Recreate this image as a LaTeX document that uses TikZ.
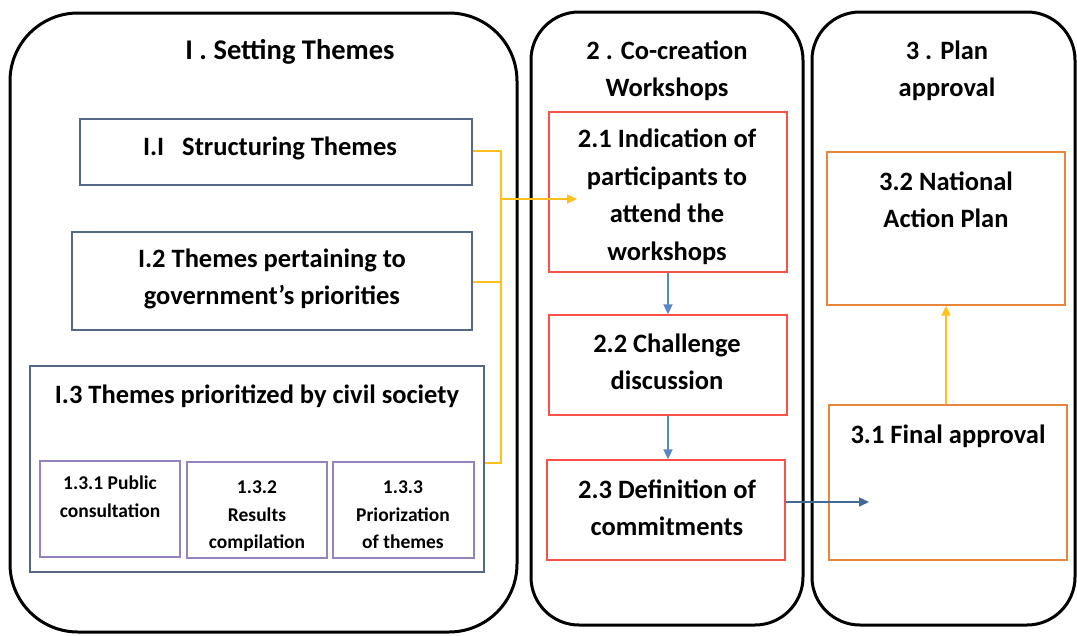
\documentclass[tikz,border=0pt]{standalone}
\usepackage{fontspec}
\setmainfont{Carlito}
\usetikzlibrary{arrows.meta,fit}
\definecolor{boxblue}{RGB}{84,104,134}
\definecolor{boxred}{RGB}{250,80,70}
\definecolor{boxorange}{RGB}{232,135,60}
\definecolor{boxpurple}{RGB}{150,130,190}
\definecolor{linkyellow}{RGB}{255,192,30}
\definecolor{linkblue}{RGB}{90,135,195}
\definecolor{linkdblue}{RGB}{65,105,150}
\tikzset{
  phase/.style={draw=black, line width=3pt, rounded corners=#1},
  box/.style={fit={#1}, inner sep=0pt, draw, line width=1.3pt},
  bluebox/.style={draw=boxblue},
  redbox/.style={draw=boxred},
  orangebox/.style={draw=boxorange},
  purplebox/.style={draw=boxpurple},
  txt/.style={align=center, inner sep=0pt, font=\bfseries\fontsize{26.5}{37.5}\selectfont},
  bigtxt/.style={align=center, inner sep=0pt, font=\bfseries\fontsize{28.5}{37.5}\selectfont},
  small/.style={align=center, inner sep=0pt, font=\bfseries\fontsize{19.5}{27.5}\selectfont},
  ylink/.style={draw=linkyellow, line width=1.8pt},
  blink/.style={draw=linkblue, line width=1.8pt},
  tip/.style={-{Triangle[width=9pt,length=10pt]}}
}
\begin{document}
\begin{tikzpicture}[x=1pt,y=-1pt]
\useasboundingbox (0,0) rectangle (1077,635);
% phases
\draw[phase=68pt] (10,13) rectangle (517,632);
\draw[phase=48pt] (531,12) rectangle (803,625);
\draw[phase=48pt] (812,12) rectangle (1075,625);
% phase titles
\node[bigtxt] (t1) at (290,52) {I . Setting Themes};
\node[txt] (t2) at (667,71) {2 . Co-creation\\Workshops};
\node[txt] (t3) at (947,71) {3 . Plan\\approval};
% phase 1 boxes
\node[box={(80,119)(472,185)}, bluebox] (b11) {};
\node[txt] (b11t) at (270,148) {I.I\hspace{0.45em} Structuring Themes};
\node[box={(72,232)(472,330)}, bluebox] (b12) {};
\node[txt] (b12t) at (272,279) {I.2 Themes pertaining to\\government’s priorities};
\node[box={(30,366)(484,572)}, bluebox] (b13) {};
\node[txt] (b13t) at (257,396) {I.3 Themes prioritized by civil society};
\node[box={(40,461)(180,557)}, purplebox] (s1) {};
\node[small, anchor=north] (s1t) at (110,476) {1.3.1 Public\\consultation};
\node[box={(187,462)(327,558)}, purplebox] (s2) {};
\node[small, anchor=north] (s2t) at (257,481) {1.3.2\\Results\\compilation};
\node[box={(333,462)(474,558)}, purplebox] (s3) {};
\node[small, anchor=north] (s3t) at (403,481) {1.3.3\\Priorization\\of themes};
% phase 2 boxes
\node[box={(549,112)(787,272)}, redbox] (b21) {};
\node[txt] (b21t) at (667,197) {2.1 Indication of\\participants to\\attend the\\workshops};
\node[box={(549,315)(787,415)}, redbox] (b22) {};
\node[txt] (b22t) at (667,362) {2.2 Challenge\\discussion};
\node[box={(547,460)(785,560)}, redbox] (b23) {};
\node[txt] (b23t) at (667,508) {2.3 Definition of\\commitments};
% phase 3 boxes
\node[box={(827,152)(1065,305)}, orangebox] (b32) {};
\node[txt] (b32t) at (946,200) {3.2 National\\Action Plan};
\node[box={(829,405)(1067,560)}, orangebox] (b31) {};
\node[txt] (b31t) at (948,436) {3.1 Final approval};
% yellow bracket
\coordinate (yt) at (501,151);
\coordinate (ym) at (501,282);
\coordinate (yb) at (501,463);
\coordinate (ya) at (501,199);
\coordinate (yend) at (577,199);
\draw[ylink] (b11.east |- yt) -- (yt) -- (yb) -- (b13.east |- yb);
\draw[ylink] (b12.east |- ym) -- (ym);
\draw[ylink, tip] (ya) -- (yend);
% blue links
\draw[blink, tip] (b21.south) -- (b22.north);
\draw[blink, tip] (b22.south) -- (b22.south |- b23.north);
\coordinate (e31) at (869,502);
\draw[draw=linkdblue, line width=1.6pt, tip] (b23.east |- e31) -- (e31);
% yellow 3.1 -> 3.2
\draw[ylink, tip] (b31.north -| b32.south) -- (b32.south);
\end{tikzpicture}
\end{document}
